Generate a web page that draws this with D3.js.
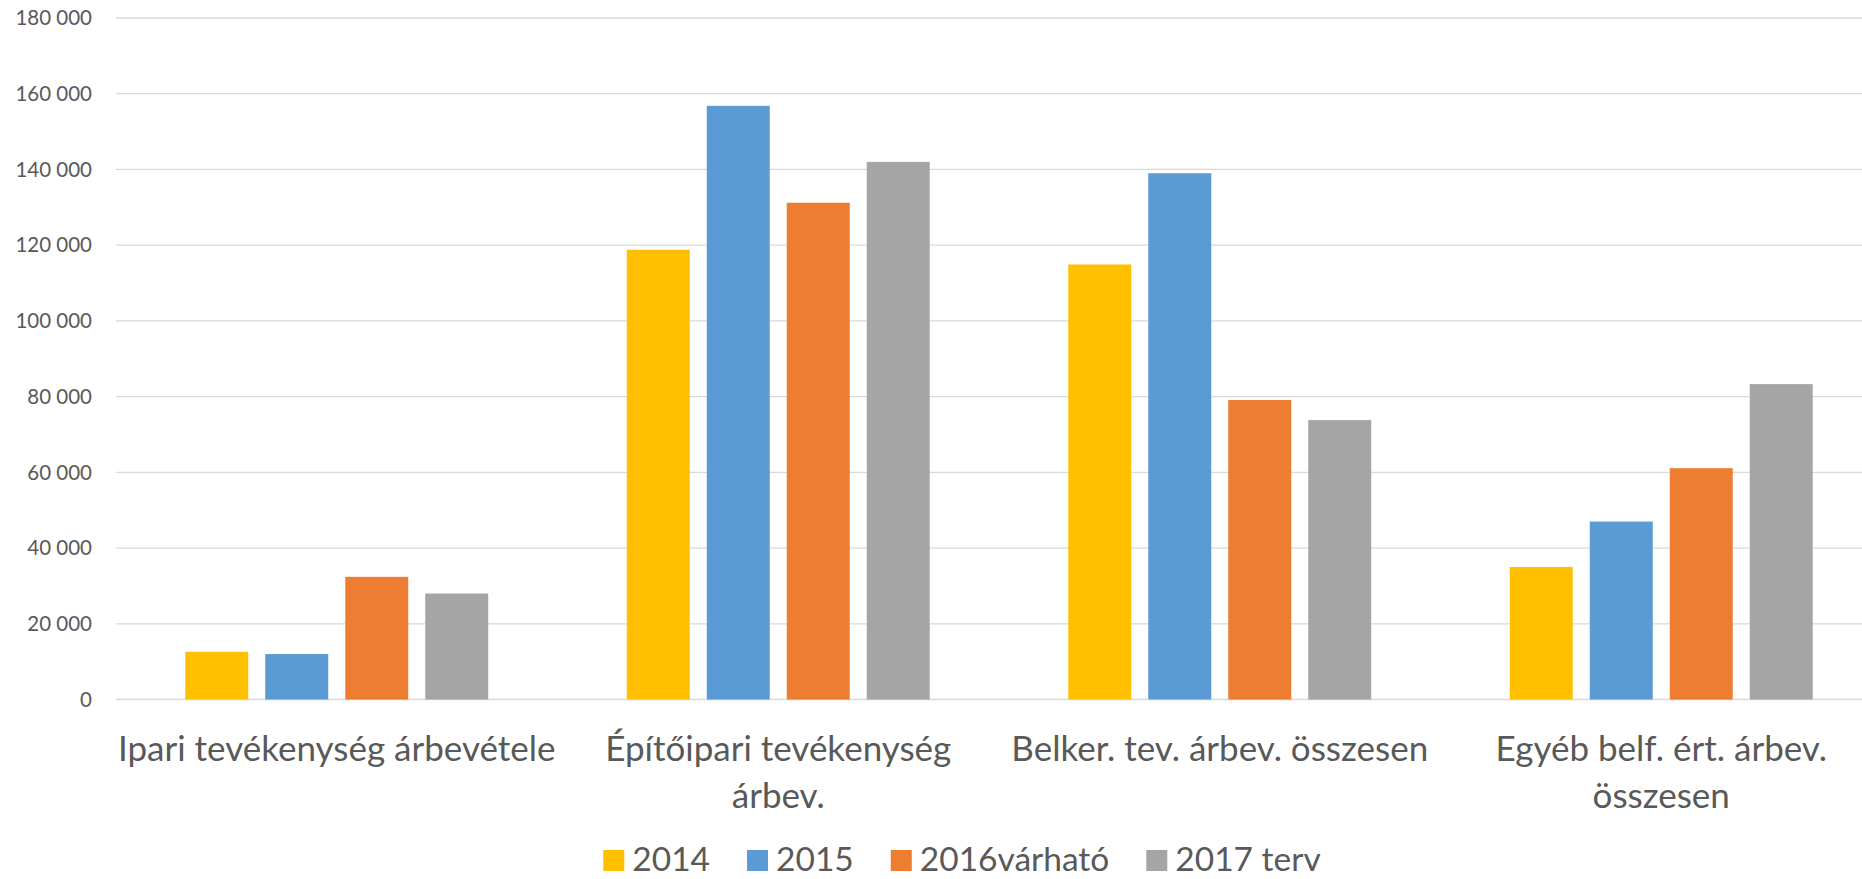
<!DOCTYPE html>
<html>
<head>
    <meta charset="utf-8">
    <title>Árbevétel</title>
    <script src="https://d3js.org/d3.v7.min.js"></script>
    <style>
        body { margin: 0; background: #fff; }
        text { font-family: Lato, "Open Sans", sans-serif; fill: #595959; }
        .grid line { stroke: #d9d9d9; stroke-width: 1.3px; }
        .tick-label { font-size: 20.5px; }
        .cat-label { font-size: 35px; }
        .legend-label { font-size: 33.5px; }
    </style>
</head>
<body>
    <div id="chart"></div>
    <script>
        const width = 1862;
        const height = 879;

        // adatok
        const categories = [
            ["Ipari tevékenység árbevétele"],
            ["Építőipari tevékenység", "árbev."],
            ["Belker. tev. árbev. összesen"],
            ["Egyéb belf. ért. árbev.", "összesen"]
        ];
        const series = ["2014", "2015", "2016várható", "2017 terv"];
        const colors = ["#ffc000", "#5b9bd5", "#ed7d31", "#a5a5a5"];
        const values2014 = [12600, 118800, 114900, 35000];
        const values2015 = [12000, 156800, 139000, 47000];
        const values2016 = [32400, 131200, 79100, 61100];
        const values2017 = [28000, 142000, 73800, 83300];
        const yTicks = [0, 20000, 40000, 60000, 80000, 100000, 120000, 140000, 160000, 180000];

        const allValues = [values2014, values2015, values2016, values2017];
        const catKeys = categories.map(c => c.join(" "));

        const svg = d3.select("#chart")
            .append("svg")
            .attr("width", width)
            .attr("height", height);

        const x0 = d3.scaleBand()
            .domain(catKeys)
            .range([116, 1882])
            .paddingInner(0)
            .paddingOuter(0);

        const x1 = d3.scaleBand()
            .domain(series)
            .range([0, x0.bandwidth()])
            .paddingInner(0.2125)
            .paddingOuter(0.866);

        const y = d3.scaleLinear()
            .domain([0, 180000])
            .range([699.5, 18]);

        const fmt = v => d3.format(",")(v).replace(/,/g, " ");

        // rácsvonalak
        svg.append("g")
            .attr("class", "grid")
            .selectAll("line")
            .data(yTicks)
            .enter()
            .append("line")
            .attr("x1", 116)
            .attr("x2", width)
            .attr("y1", d => y(d))
            .attr("y2", d => y(d));

        svg.append("g")
            .selectAll("text")
            .data(yTicks)
            .enter()
            .append("text")
            .attr("class", "tick-label")
            .attr("x", 92)
            .attr("y", d => y(d))
            .attr("dy", "0.35em")
            .attr("text-anchor", "end")
            .text(d => fmt(d));

        // oszlopok
        const groups = svg.append("g")
            .selectAll("g")
            .data(catKeys)
            .enter()
            .append("g")
            .attr("transform", d => "translate(" + x0(d) + ",0)");

        groups.selectAll("rect")
            .data((d, i) => series.map((s, j) => ({ s: s, v: allValues[j][i], c: colors[j] })))
            .enter()
            .append("rect")
            .attr("x", d => x1(d.s))
            .attr("width", x1.bandwidth())
            .attr("y", d => y(d.v))
            .attr("height", d => y(0) - y(d.v))
            .attr("fill", d => d.c);

        // kategória feliratok
        const labels = svg.append("g")
            .selectAll("text")
            .data(categories)
            .enter()
            .append("text")
            .attr("class", "cat-label")
            .attr("text-anchor", "middle")
            .attr("x", (d, i) => x0(catKeys[i]) + x0.bandwidth() / 2)
            .attr("y", 761);

        labels.selectAll("tspan")
            .data(d => d)
            .enter()
            .append("tspan")
            .attr("x", function() { return d3.select(this.parentNode).attr("x"); })
            .attr("dy", (d, i) => i === 0 ? 0 : 47)
            .text(d => d);

        // jelmagyarázat
        const legend = svg.append("g");
        const items = legend.selectAll("g")
            .data(series)
            .enter()
            .append("g");

        items.append("rect")
            .attr("y", 850)
            .attr("width", 21)
            .attr("height", 21)
            .attr("fill", (d, i) => colors[i]);

        items.append("text")
            .attr("class", "legend-label")
            .attr("x", 29)
            .attr("y", 871)
            .text(d => d);

        let pos = 0;
        const offsets = [];
        items.each(function() {
            offsets.push(pos);
            pos += 29 + d3.select(this).select("text").node().getComputedTextLength() + 37;
        });
        const total = pos - 37;
        const startX = 962 - total / 2;
        items.attr("transform", (d, i) => "translate(" + (startX + offsets[i]) + ",0)");
    </script>
</body>
</html>
